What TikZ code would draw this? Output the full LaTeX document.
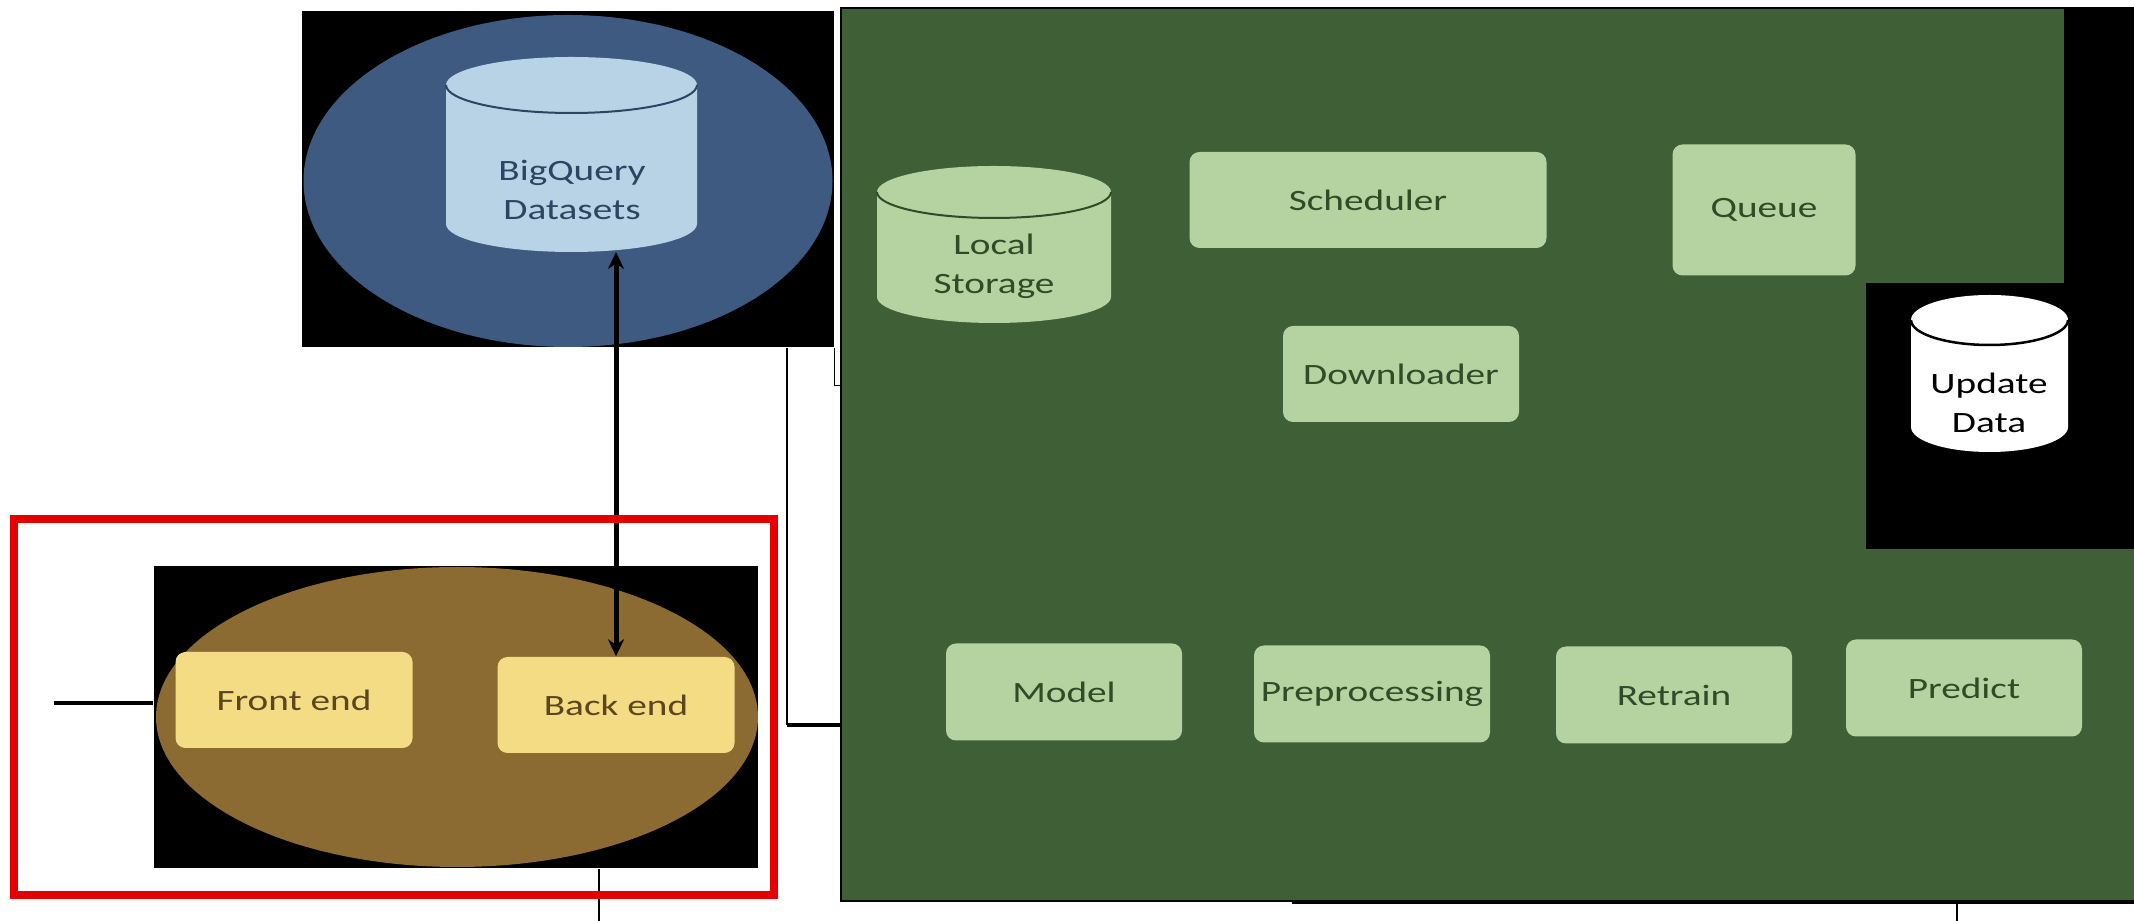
\documentclass[tikz,border=0pt]{standalone}
\usepackage{fontspec}
\setmainfont{Carlito}[FakeStretch=1.33]
\usetikzlibrary{shapes.geometric,arrows.meta}

\definecolor{bqblue}{HTML}{3E5A80}
\definecolor{bqlight}{HTML}{B7D3E5}
\definecolor{bqink}{HTML}{2B4563}
\definecolor{uibrown}{HTML}{8B6B32}
\definecolor{uiyellow}{HTML}{F4DC84}
\definecolor{uiink}{HTML}{5B4620}
\definecolor{zonegreen}{HTML}{3F5F36}
\definecolor{taskgreen}{HTML}{B4D3A0}
\definecolor{taskink}{HTML}{2F4B27}
\definecolor{alertred}{HTML}{E60000}

\begin{document}
\begin{tikzpicture}[x=0.1mm,y=-0.1mm,
    font=\fontsize{8.4}{11}\selectfont,
    panel/.style={fill=black, inner sep=0pt},
    task/.style={rounded corners=1mm, fill=taskgreen, text=taskink,
      inner sep=0pt, minimum width=23.6mm, minimum height=9.7mm},
    uibox/.style={rounded corners=1mm, fill=uiyellow, text=uiink,
      inner sep=0pt, minimum width=23.7mm, minimum height=9.6mm},
    drumtext/.style={align=center, inner sep=0pt},
    wire/.style={line width=0.15mm},
    bus/.style={line width=0.45mm},
    duplex/.style={{Stealth[length=1.7mm,width=1.6mm]}-{Stealth[length=1.7mm,width=1.6mm]},
      line width=0.5mm}]
  \useasboundingbox (0,0) rectangle (2134,921);

  % worker area on the right
  \node[fill=zonegreen, draw=black, line width=0.2mm, inner sep=0pt,
    anchor=north west, minimum width=129.4mm, minimum height=89.3mm]
    (workzone) at (840,7) {};
  \fill (2064,7) rectangle (2134,283);
  \node[panel, minimum width=26.8mm, minimum height=26.6mm] (updpanel) at (2000,416) {};

  % data source
  \node[panel, minimum width=53.2mm, minimum height=33.6mm] (bqpanel) at (568,179) {};
  \node[ellipse, fill=bqblue, inner sep=0pt, minimum width=52.9mm,
    minimum height=33.2mm] (bqzone) at (568,181) {};
  \fill[bqlight] (446,85) -- (446,224)
    arc[start angle=180, end angle=360, x radius=12.55mm, y radius=2.8mm] -- (697,85)
    arc[start angle=0, end angle=180, x radius=12.55mm, y radius=2.8mm] -- cycle;
  \draw[bqink, line width=0.2mm] (446,85)
    arc[start angle=180, end angle=360, x radius=12.55mm, y radius=2.8mm];
  \node[drumtext, text=bqink] (bq) at (572,190) {BigQuery\\Datasets};
  \coordinate (bqbase) at (572,252);

  % web application
  \node[panel, minimum width=60.4mm, minimum height=30.2mm] (uipanel) at (456,717) {};
  \node[ellipse, fill=uibrown, inner sep=0pt, minimum width=60.2mm,
    minimum height=30mm] (uizone) at (457,717) {};
  \node[uibox] (front) at (294,700) {Front end};
  \node[uibox] (back) at (616,705) {Back end};

  % worker components
  \fill[taskgreen] (877,192) -- (877,297)
    arc[start angle=180, end angle=360, x radius=11.7mm, y radius=2.6mm] -- (1111,192)
    arc[start angle=0, end angle=180, x radius=11.7mm, y radius=2.6mm] -- cycle;
  \draw[taskink, line width=0.2mm] (877,192)
    arc[start angle=180, end angle=360, x radius=11.7mm, y radius=2.6mm];
  \node[drumtext, text=taskink] (store) at (994,266) {Local\\Storage};

  \node[task, minimum width=35.7mm, minimum height=9.6mm] (sched) at (1368,200) {Scheduler};
  \node[task, minimum width=18.3mm, minimum height=13.1mm] (queue) at (1764,210) {Queue};
  \node[task, minimum height=9.6mm] (down) at (1401,374) {Downloader};
  \node[task] (model) at (1064,692) {Model};
  \node[task] (prep) at (1372,694) {Preprocessing};
  \node[task] (retrain) at (1674,695) {Retrain};
  \node[task] (predict) at (1964,688) {Predict};

  \fill[white] (1911,320) -- (1911,427)
    arc[start angle=180, end angle=360, x radius=7.85mm, y radius=2.5mm] -- (2068,320)
    arc[start angle=0, end angle=180, x radius=7.85mm, y radius=2.5mm] -- cycle;
  \draw[line width=0.25mm] (1911,320)
    arc[start angle=180, end angle=360, x radius=7.85mm, y radius=2.5mm];
  \node[drumtext, text=black] (upd) at (1989,403) {Update\\Data};

  % links
  \coordinate (feed) at (54,703);
  \coordinate (drop) at (599,921);
  \coordinate (tap) at (787,725);
  \coordinate (outlet) at (1957,921);
  \draw[bus] (feed) -- (feed -| uipanel.west);
  \draw[wire] (drop |- uipanel.south) -- (drop);
  \draw[wire] (tap |- bqpanel.south) -- (tap);
  \draw[bus] (tap) -- (tap -| workzone.west);
  \draw[wire] (bqpanel.south east) -- ++(0,38) -- ++(7,0);
  \draw[bus] ([xshift=-84.4mm]workzone.south east) -- (workzone.south east);
  \draw[wire] (outlet |- workzone.south) -- (outlet);
  \draw[duplex] (back.north |- bqbase) -- (back.north);

  % highlight
  \draw[alertred, line width=0.8mm] (14,519) rectangle (774,895);
\end{tikzpicture}
\end{document}
